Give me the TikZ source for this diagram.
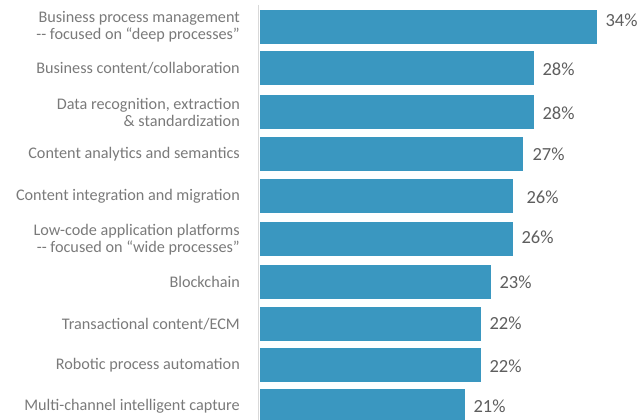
\documentclass[tikz,border=0pt]{standalone}
\usepackage{fontspec}
\setmainfont{Carlito}
\usetikzlibrary{positioning}

\definecolor{barblue}{HTML}{3A97C0}
\definecolor{labelgray}{HTML}{7A7A7A}
\definecolor{pctgray}{HTML}{5E5E5E}
\definecolor{axisgray}{HTML}{D9D9D9}

\begin{document}
\begin{tikzpicture}[x=1pt,y=-1pt,
  bar/.style={fill=barblue, draw=none, inner sep=0pt, minimum height=34pt, anchor=north west},
  catlabel/.style={align=right, text=labelgray, inner sep=0pt, font=\fontsize{16.2}{17}\selectfont},
  pctlabel/.style={text=pctgray, inner sep=0pt, font=\fontsize{18.5}{22}\selectfont}]
\useasboundingbox (0,0) rectangle (640,420);
% axis
\coordinate (axtop) at (258.5,5);
\coordinate (axbot) at (258.5,420);
\draw[axisgray, line width=1.6pt] (axtop) -- (axbot);
% bars: top / length / value / label shift / category
\foreach \top/\len/\val/\dx/\dy/\txt [count=\n] in {
  10/337/34/8/-7/{Business process management\\-{}- focused on “deep processes”},
  51/274/28/8/1/{Business content/collaboration},
  95/274/28/8/1/{Data recognition, extraction\\\& standardization},
  137/263/27/9/0/{Content analytics and semantics},
  179/253/26/13/1/{Content integration and migration},
  222/253/26/8/-2/{Low-code application platforms\\-{}- focused on “wide processes”},
  265/231/23/8/0/{Blockchain},
  307/221/22/8/-1/{Transactional content/ECM},
  348/221/22/8/1/{Robotic process automation},
  389/205/21/8/0/{Multi-channel intelligent capture}}{
  \node[bar, minimum width=\len pt] (bar\n) at (260,\top) {};
  \node[pctlabel, right=\dx pt of bar\n, yshift=-\dy pt] (pct\n) {\val\%};
  \node[catlabel, left=20pt of bar\n] (cat\n) {\txt};
}
\end{tikzpicture}
\end{document}
